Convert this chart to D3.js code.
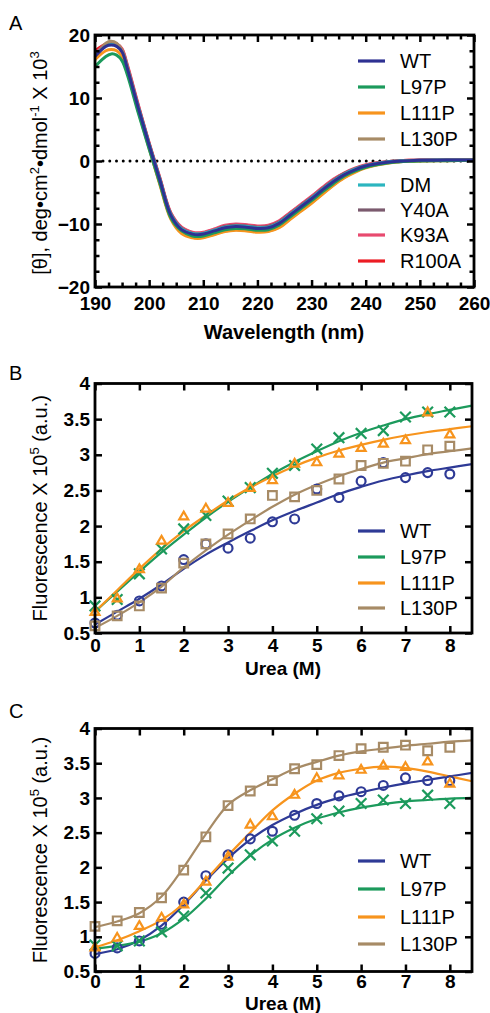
<!DOCTYPE html>
<html lang="en">
<head>
<meta charset="utf-8">
<title>CD spectra and urea denaturation</title>
<script src="https://cdn.jsdelivr.net/npm/d3@7"></script>
<style>
  html, body { margin: 0; padding: 0; background: #fff; }
  svg { display: block; font-family: "Liberation Sans", Arial, Helvetica, sans-serif; }
</style>
</head>
<body>
<script>
// ---- panel A : CD spectra ----
var cdWavelength = [190,192,193,194,195,196,198,200,202,204,206,208,209,210,212,214,216,218,220,222,224,226,228,230,232,234,236,238,240,242,244,246,248,250,255,260];
var cdWT    = [16.6,18.2,18.4,18.2,17.3,14.6,8.4,2.5,-3.1,-8.6,-10.9,-11.6,-11.7,-11.6,-11.1,-10.6,-10.4,-10.5,-10.7,-10.6,-9.9,-8.6,-7.3,-6.0,-4.6,-3.3,-2.2,-1.4,-0.8,-0.45,-0.2,-0.05,0.05,0.1,0.15,0.15];
var cdL97P  = [15.0,16.6,17.0,16.8,15.9,13.6,7.6,1.9,-3.6,-9.0,-11.1,-11.9,-12.0,-11.9,-11.4,-10.9,-10.7,-10.8,-11.0,-10.9,-10.2,-8.9,-7.6,-6.3,-4.9,-3.6,-2.4,-1.6,-1.0,-0.6,-0.3,-0.15,-0.05,0.0,0.05,0.1];
var cdL111P = [16.1,17.5,17.7,17.5,16.6,14.1,7.9,2.0,-3.8,-9.2,-11.5,-12.2,-12.3,-12.2,-11.7,-11.2,-11.0,-11.1,-11.3,-11.2,-10.6,-9.3,-8.0,-6.7,-5.3,-3.9,-2.7,-1.8,-1.1,-0.65,-0.35,-0.15,-0.05,0.0,0.05,0.1];
var cdL130P = [16.4,18.7,19.0,18.7,17.6,14.8,8.2,2.2,-3.6,-9.0,-11.3,-12.1,-12.2,-12.1,-11.6,-11.1,-10.9,-11.0,-11.2,-11.1,-10.5,-9.2,-7.9,-6.6,-5.2,-3.8,-2.6,-1.7,-1.0,-0.6,-0.3,-0.1,0.0,0.05,0.1,0.1];
var cdDM    = [16.8,18.3,18.5,18.3,17.4,14.7,8.5,2.6,-3.0,-8.5,-10.8,-11.5,-11.6,-11.5,-11.0,-10.5,-10.3,-10.4,-10.6,-10.5,-9.8,-8.5,-7.2,-5.9,-4.5,-3.2,-2.1,-1.3,-0.75,-0.4,-0.15,-0.02,0.08,0.12,0.15,0.15];
var cdY40A  = [16.7,18.4,18.6,18.4,17.5,14.8,8.6,2.7,-2.9,-8.4,-10.7,-11.5,-11.6,-11.5,-11.0,-10.4,-10.2,-10.3,-10.5,-10.4,-9.7,-8.4,-7.1,-5.8,-4.4,-3.1,-2.0,-1.25,-0.7,-0.35,-0.12,0.0,0.08,0.12,0.15,0.15];
var cdK93A  = [17.0,18.5,18.7,18.6,17.8,15.2,8.9,2.9,-2.7,-8.2,-10.5,-11.3,-11.4,-11.3,-10.8,-10.2,-10.0,-10.1,-10.3,-10.2,-9.5,-8.2,-6.9,-5.6,-4.2,-2.9,-1.9,-1.15,-0.6,-0.3,-0.1,0.02,0.1,0.15,0.2,0.2];
var cdR100A = [17.5,18.6,18.8,18.6,17.7,15.0,8.8,2.8,-2.8,-8.3,-10.6,-11.4,-11.5,-11.4,-10.9,-10.3,-10.1,-10.2,-10.4,-10.3,-9.6,-8.3,-7.0,-5.7,-4.3,-3.0,-1.95,-1.2,-0.65,-0.32,-0.1,0.02,0.1,0.15,0.2,0.2];
var cdNames  = ["WT","L97P","L111P","L130P","DM","Y40A","K93A","R100A"];
var cdColors = ["#2e3192","#1c9a5c","#f7941d","#a78b66","#2bb5bf","#7b5a6e","#e84a6f","#ec1c24"];
var cdSeries = [cdWT, cdL97P, cdL111P, cdL130P, cdDM, cdY40A, cdK93A, cdR100A];
var aXTicks = [190,200,210,220,230,240,250,260];
var aYTicks = [-20,-10,0,10,20];

// ---- panels B and C : urea denaturation ----
var urea    = [0,0.5,1,1.5,2,2.5,3,3.5,4,4.5,5,5.5,6,6.5,7,7.5,8];
var fitUrea = [0,0.5,1,1.5,2,2.5,3,3.5,4,4.5,5,5.5,6,6.5,7,7.5,8,8.5];
var mutNames  = ["WT","L97P","L111P","L130P"];
var mutColors = ["#2e3a96","#1c9a5c","#f7941d","#a78b66"];

var bWT    = [0.64,0.75,0.95,1.16,1.53,1.75,1.69,1.83,2.06,2.10,2.52,2.40,2.63,2.89,2.68,2.75,2.73];
var bL97P  = [0.88,0.97,1.33,1.68,1.96,2.15,2.35,2.54,2.74,2.85,3.08,3.24,3.30,3.34,3.53,3.60,3.60];
var bL111P = [0.79,0.98,1.39,1.79,2.13,2.24,2.32,2.53,2.64,2.87,2.89,3.01,3.09,3.15,3.20,3.59,3.28];
var bL130P = [0.60,0.74,0.88,1.13,1.48,1.75,1.89,2.10,2.43,2.41,2.50,2.66,2.85,2.88,2.91,3.07,3.12];
var bFitWT    = [0.62,0.80,0.98,1.18,1.40,1.60,1.77,1.93,2.08,2.21,2.33,2.45,2.55,2.64,2.71,2.77,2.82,2.87];
var bFitL97P  = [0.80,1.08,1.36,1.63,1.88,2.12,2.34,2.54,2.73,2.90,3.05,3.19,3.31,3.41,3.50,3.57,3.63,3.69];
var bFitL111P = [0.80,1.10,1.40,1.68,1.93,2.15,2.36,2.54,2.70,2.84,2.96,3.06,3.14,3.21,3.27,3.32,3.36,3.40];
var bFitL130P = [0.57,0.74,0.93,1.15,1.42,1.66,1.88,2.08,2.27,2.44,2.58,2.70,2.80,2.89,2.95,3.01,3.05,3.09];

var cWT    = [0.76,0.84,0.94,1.18,1.50,1.88,2.18,2.41,2.52,2.75,2.92,3.03,3.09,3.18,3.29,3.25,3.25];
var cL97P  = [0.88,0.87,0.94,1.07,1.30,1.63,1.99,2.18,2.38,2.52,2.70,2.81,2.92,2.97,2.92,3.04,2.92];
var cL111P = [0.84,0.98,1.15,1.27,1.46,1.79,2.15,2.61,2.73,3.04,3.28,3.32,3.40,3.46,3.44,3.52,3.20];
var cL130P = [1.15,1.23,1.35,1.56,1.96,2.44,2.89,3.10,3.25,3.42,3.48,3.61,3.71,3.73,3.76,3.68,3.73];
var cFitWT    = [0.75,0.82,0.95,1.16,1.46,1.81,2.13,2.40,2.61,2.77,2.90,3.00,3.08,3.15,3.21,3.26,3.31,3.36];
var cFitL97P  = [0.83,0.87,0.93,1.05,1.26,1.55,1.88,2.17,2.40,2.57,2.70,2.79,2.86,2.91,2.95,2.97,2.99,3.00];
var cFitL111P = [0.85,0.95,1.08,1.24,1.48,1.82,2.17,2.50,2.82,3.06,3.25,3.36,3.42,3.45,3.43,3.38,3.31,3.24];
var cFitL130P = [1.14,1.22,1.34,1.58,2.00,2.48,2.90,3.11,3.27,3.42,3.52,3.61,3.67,3.71,3.75,3.78,3.81,3.83];

var ureaXTicks = [0,1,2,3,4,5,6,7,8];
var fluorYTicks = [0.5,1,1.5,2,2.5,3,3.5,4];
var fluorYLabels = ["0.5","1","1.5","2","2.5","3","3.5","4"];

var svg = d3.select("body").append("svg")
  .attr("width", 490)
  .attr("height", 1013);

function styleAxis(g, fontSize) {
  g.select(".domain").remove();
  g.selectAll(".tick line").attr("stroke", "#000").attr("stroke-width", 2.5);
  g.selectAll("text")
    .attr("font-family", "'Liberation Sans', Arial, sans-serif")
    .attr("font-size", fontSize)
    .attr("font-weight", "bold")
    .attr("fill", "#000");
}

// draws ticks (all inward) and frame for one panel
function drawFrame(x, y, xTicks, yTicks, xMinor, yMinor, xPad, yFmt) {
  var x0 = x.range()[0], x1 = x.range()[1];
  var y0 = y.range()[0], y1 = y.range()[1];
  svg.append("g").attr("transform", "translate(0," + y0 + ")")
    .call(d3.axisBottom(x).tickValues(xTicks).tickSize(-7).tickPadding(xPad).tickFormat(d3.format("d")))
    .call(styleAxis, 19);
  svg.append("g").attr("transform", "translate(0," + y1 + ")")
    .call(d3.axisTop(x).tickValues(xTicks).tickSize(-7).tickFormat(""))
    .call(styleAxis, 19);
  svg.append("g").attr("transform", "translate(" + x0 + ",0)")
    .call(d3.axisLeft(y).tickValues(yTicks).tickSize(-7).tickPadding(5).tickFormat(yFmt))
    .call(styleAxis, 19);
  svg.append("g").attr("transform", "translate(" + x1 + ",0)")
    .call(d3.axisRight(y).tickValues(yTicks).tickSize(-7).tickFormat(""))
    .call(styleAxis, 19);
  if (xMinor) {
    svg.append("g").attr("transform", "translate(0," + y0 + ")")
      .call(d3.axisBottom(x).tickValues(xMinor).tickSize(-4.5).tickFormat(""))
      .call(styleAxis, 19);
    svg.append("g").attr("transform", "translate(0," + y1 + ")")
      .call(d3.axisTop(x).tickValues(xMinor).tickSize(-4.5).tickFormat(""))
      .call(styleAxis, 19);
  }
  if (yMinor) {
    svg.append("g").attr("transform", "translate(" + x0 + ",0)")
      .call(d3.axisLeft(y).tickValues(yMinor).tickSize(-4.5).tickFormat(""))
      .call(styleAxis, 19);
    svg.append("g").attr("transform", "translate(" + x1 + ",0)")
      .call(d3.axisRight(y).tickValues(yMinor).tickSize(-4.5).tickFormat(""))
      .call(styleAxis, 19);
  }
  svg.append("rect")
    .attr("x", x0).attr("y", y1)
    .attr("width", x1 - x0).attr("height", y0 - y1)
    .attr("fill", "none").attr("stroke", "#000").attr("stroke-width", 2.8);
}

function panelLetter(txt, x, y) {
  svg.append("text").attr("x", x).attr("y", y)
    .attr("font-size", 20).attr("fill", "#000").text(txt);
}

function xTitle(txt, x, y, size) {
  svg.append("text").attr("x", x).attr("y", y)
    .attr("text-anchor", "middle").attr("font-size", size).attr("font-weight", "bold")
    .text(txt);
}

function legend(names, colors, x, ys) {
  names.forEach(function(n, i) {
    svg.append("line")
      .attr("x1", x).attr("x2", x + 27)
      .attr("y1", ys[i]).attr("y2", ys[i])
      .attr("stroke", colors[i]).attr("stroke-width", 3.2);
    svg.append("text")
      .attr("x", x + 42).attr("y", ys[i]).attr("dy", "0.36em")
      .attr("font-size", 20).attr("fill", "#000")
      .text(n);
  });
}

// ================= Panel A =================
var xA = d3.scaleLinear().domain([190, 260]).range([95, 474]);
var yA = d3.scaleLinear().domain([-20, 20]).range([287, 35]);

svg.append("line")
  .attr("x1", xA(190) + 8).attr("x2", xA(260))
  .attr("y1", yA(0)).attr("y2", yA(0))
  .attr("stroke", "#000").attr("stroke-width", 3)
  .attr("stroke-linecap", "round")
  .attr("stroke-dasharray", "0,6.75");

var cdLine = d3.line()
  .x(function(d, i) { return xA(cdWavelength[i]); })
  .y(function(d) { return yA(d); })
  .curve(d3.curveCatmullRom);

// draw in reverse order so WT sits on top
for (var k = cdSeries.length - 1; k >= 0; k--) {
  svg.append("path")
    .attr("d", cdLine(cdSeries[k]))
    .attr("fill", "none")
    .attr("stroke", cdColors[k])
    .attr("stroke-width", 3);
}

var aMinorX = d3.range(192.5, 260, 2.5).filter(function(v) { return v % 10 !== 0; });
var aMinorY = d3.range(-17.5, 20, 2.5).filter(function(v) { return v % 10 !== 0; });
drawFrame(xA, yA, aXTicks, aYTicks, aMinorX, aMinorY, 10, d3.format("d"));

panelLetter("A", 9, 30);
xTitle("Wavelength (nm)", 284, 339, 20);

var aTitle = svg.append("text")
  .attr("transform", "translate(47,163) rotate(-90)")
  .attr("text-anchor", "middle")
  .attr("font-size", 20).attr("fill", "#000");
aTitle.append("tspan").text("[\u03b8], deg\u2022cm");
aTitle.append("tspan").attr("dy", -8).attr("font-size", 13).text("2");
aTitle.append("tspan").attr("dy", 8).text("\u2022dmol");
aTitle.append("tspan").attr("dy", -8).attr("font-size", 13).text("-1");
aTitle.append("tspan").attr("dy", 8).text(" X 10");
aTitle.append("tspan").attr("dy", -8).attr("font-size", 13).text("3");

legend(cdNames, cdColors, 358, [61, 87, 113, 139, 185, 210, 235, 261]);

// ================= Panels B & C =================
var symTypes = [d3.symbolCircle, d3.symbolTimes, d3.symbolTriangle2, d3.symbolSquare2];
var symSizes = [62, 75, 58, 95];

function ureaPanel(top, bottom, pts, fits, letter, letterY, xPad, titleY, legendYs) {
  var x = d3.scaleLinear().domain([0, 8.5]).range([95, 472]);
  var y = d3.scaleLinear().domain([0.5, 4]).range([bottom, top]);

  var line = d3.line()
    .x(function(d, i) { return x(fitUrea[i]); })
    .y(function(d) { return y(d); })
    .curve(d3.curveCatmullRom);

  fits.forEach(function(f, i) {
    svg.append("path").attr("d", line(f))
      .attr("fill", "none").attr("stroke", mutColors[i]).attr("stroke-width", 2.2);
  });

  pts.forEach(function(p, i) {
    var sym = d3.symbol().type(symTypes[i]).size(symSizes[i]);
    svg.append("g").selectAll("path")
      .data(p)
      .enter()
      .append("path")
      .attr("transform", function(d, j) { return "translate(" + x(urea[j]) + "," + y(d) + ")"; })
      .attr("d", sym())
      .attr("fill", "none")
      .attr("stroke", mutColors[i])
      .attr("stroke-width", 2.2);
  });

  drawFrame(x, y, ureaXTicks, fluorYTicks, null, null, xPad, function(d, i) { return fluorYLabels[i]; });

  panelLetter(letter, 9, letterY);
  xTitle("Urea (M)", 283, titleY, 19);

  var t = svg.append("text")
    .attr("transform", "translate(47," + ((top + bottom) / 2) + ") rotate(-90)")
    .attr("text-anchor", "middle")
    .attr("font-size", 20).attr("fill", "#000");
  t.append("tspan").text("Fluorescence X 10");
  t.append("tspan").attr("dy", -8).attr("font-size", 13).text("5");
  t.append("tspan").attr("dy", 8).text(" (a.u.)");

  legend(mutNames, mutColors, 358, legendYs);
}

ureaPanel(383.5, 633, [bWT, bL97P, bL111P, bL130P], [bFitWT, bFitL97P, bFitL111P, bFitL130P],
  "B", 380, 6, 675, [531, 557, 583, 608]);
ureaPanel(728.5, 971.5, [cWT, cL97P, cL111P, cL130P], [cFitWT, cFitL97P, cFitL111P, cFitL130P],
  "C", 718, 3, 1010, [861, 889, 917, 944]);
</script>
</body>
</html>
